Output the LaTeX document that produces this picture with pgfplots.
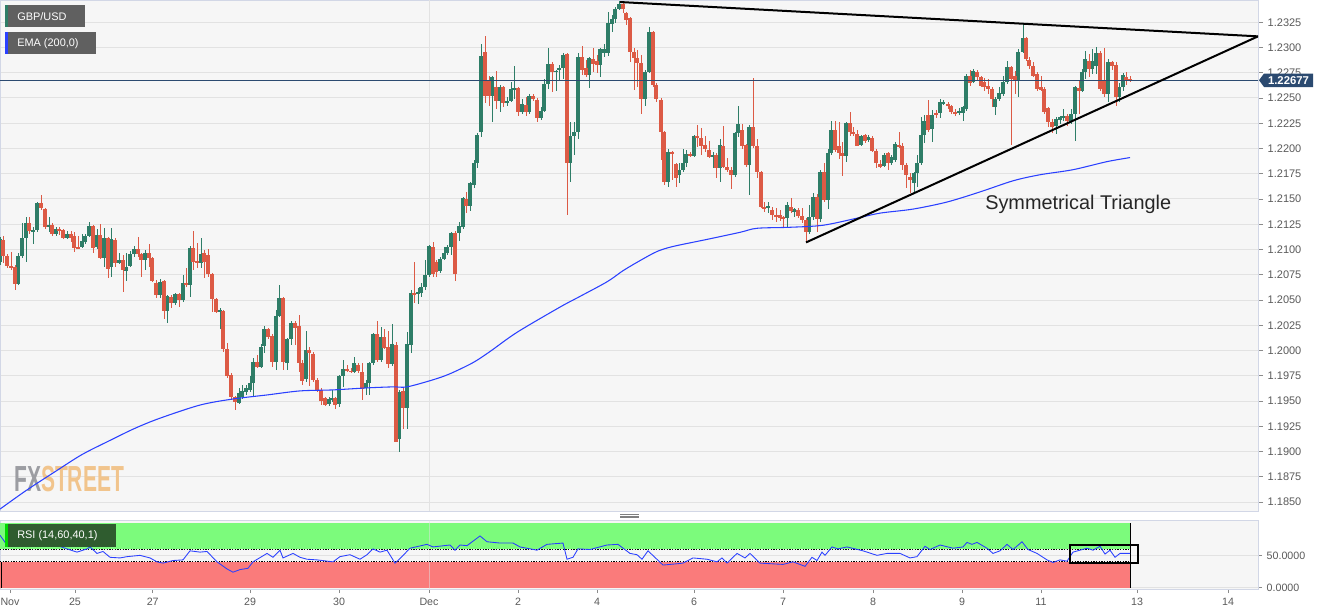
\documentclass[border=0pt]{standalone}
\usepackage{pgfplots}
\pgfplotsset{compat=1.18}
\usepackage{pgfplotstable}
\usepackage{fontspec}
\setmainfont{Liberation Sans}
\definecolor{plotbg}{HTML}{F6F6F6}
\definecolor{framec}{HTML}{D2D7E6}
\definecolor{gridc}{HTML}{E2E2E2}
\definecolor{upc}{HTML}{2E7D67}
\definecolor{downc}{HTML}{DC5A45}
\definecolor{emac}{HTML}{2A40FF}
\definecolor{pricec}{HTML}{2B4A70}
\definecolor{boxgray}{HTML}{606060}
\definecolor{tickgray}{HTML}{5A5A5A}
\definecolor{rsigreen}{HTML}{7CFB7C}
\definecolor{rsired}{HTML}{FA7B7B}
\definecolor{rsibox}{HTML}{2F5C2F}
\definecolor{fxgray}{HTML}{9C9DA2}
\definecolor{fxorange}{HTML}{F1C48C}
\pgfplotsset{/pgf/number format/assume math mode=true}

\pgfplotstableread{
t o h l c
0 1.2088 1.2112 1.2085 1.2110
3 1.2110 1.2113 1.2087 1.2094
7 1.2094 1.2096 1.2082 1.2084
11 1.2084 1.2098 1.2080 1.2082
15 1.2083 1.2085 1.2060 1.2066
18 1.2066 1.2097 1.2065 1.2094
22 1.2094 1.2126 1.2092 1.2111
26 1.2111 1.2132 1.2088 1.2126
29 1.2126 1.2132 1.2115 1.2118
33 1.2117 1.2122 1.2105 1.2119
37 1.2119 1.2147 1.2117 1.2146
41 1.2146 1.2154 1.2139 1.2141
45 1.2140 1.2141 1.2120 1.2122
49 1.2122 1.2132 1.2117 1.2124
52 1.2124 1.2126 1.2113 1.2115
56 1.2115 1.2122 1.2113 1.2120
59 1.2120 1.2122 1.2114 1.2118
63 1.2119 1.2120 1.2110 1.2111
67 1.2111 1.2118 1.2110 1.2115
71 1.2115 1.2118 1.2108 1.2111
74 1.2113 1.2117 1.2098 1.2102
78 1.2103 1.2113 1.2100 1.2101
82 1.2102 1.2115 1.2101 1.2108
85 1.2107 1.2115 1.2106 1.2113
89 1.2113 1.2127 1.2112 1.2123
93 1.2123 1.2124 1.2097 1.2102
97 1.2102 1.2120 1.2100 1.2114
100 1.2114 1.2125 1.2091 1.2092
104 1.2092 1.2121 1.2083 1.2111
108 1.2111 1.2112 1.2072 1.2081
111 1.2083 1.2121 1.2073 1.2110
115 1.2110 1.2111 1.2083 1.2087
119 1.2087 1.2097 1.2086 1.2090
123 1.2090 1.2095 1.2058 1.2080
126 1.2079 1.2097 1.2069 1.2083
130 1.2084 1.2099 1.2083 1.2096
134 1.2096 1.2104 1.2093 1.2101
138 1.2101 1.2112 1.2093 1.2096
141 1.2096 1.2097 1.2073 1.2090
145 1.2090 1.2100 1.2080 1.2097
149 1.2097 1.2106 1.2083 1.2092
152 1.2092 1.2093 1.2068 1.2069
156 1.2067 1.2070 1.2052 1.2055
160 1.2055 1.2071 1.2052 1.2068
164 1.2069 1.2070 1.2031 1.2039
167 1.2039 1.2055 1.2027 1.2054
171 1.2053 1.2055 1.2042 1.2047
175 1.2047 1.2057 1.2045 1.2056
179 1.2056 1.2057 1.2043 1.2050
183 1.2050 1.2075 1.2048 1.2067
186 1.2067 1.2082 1.2063 1.2065
190 1.2065 1.2103 1.2053 1.2102
193 1.2102 1.2118 1.2080 1.2088
197 1.2089 1.2107 1.2082 1.2087
201 1.2087 1.2111 1.2082 1.2096
204 1.2097 1.2100 1.2072 1.2088
208 1.2095 1.2100 1.2073 1.2076
212 1.2076 1.2077 1.2038 1.2051
216 1.2051 1.2052 1.2037 1.2038
220 1.2038 1.2042 1.2021 1.2040
223 1.2039 1.2040 1.1999 1.2002
227 1.2002 1.2008 1.1973 1.1975
231 1.1976 1.1978 1.1951 1.1954
235 1.1954 1.1955 1.1941 1.1949
239 1.1948 1.1963 1.1947 1.1958
242 1.1954 1.1966 1.1952 1.1960
246 1.1959 1.1966 1.1956 1.1963
250 1.1961 1.1975 1.1959 1.1968
253 1.1968 1.1993 1.1954 1.1989
257 1.1989 1.1996 1.1983 1.1984
261 1.1984 1.2006 1.1983 1.2004
264 1.2004 1.2024 1.1998 1.2021
268 1.2021 1.2022 1.2011 1.2013
272 1.2014 1.2016 1.1984 1.1989
276 1.1989 1.2040 1.1981 1.2034
279 1.2034 1.2065 1.2033 1.2052
283 1.2052 1.2053 1.1981 1.1989
287 1.1988 1.2012 1.1981 1.2011
291 1.2011 1.2029 1.2006 1.2027
295 1.2027 1.2029 1.2006 1.2022
299 1.2024 1.2035 1.1979 1.1988
302 1.1988 1.1991 1.1966 1.1970
306 1.1972 1.2019 1.1969 1.2001
309 1.2001 1.2003 1.1965 1.1998
313 1.1997 1.1999 1.1969 1.1971
317 1.1971 1.1973 1.1959 1.1961
321 1.1961 1.1963 1.1946 1.1950
325 1.1953 1.1954 1.1945 1.1946
329 1.1947 1.1954 1.1945 1.1952
332 1.1952 1.1961 1.1949 1.1953
335 1.1953 1.1954 1.1942 1.1946
339 1.1947 1.1976 1.1944 1.1975
343 1.1975 1.1991 1.1964 1.1982
347 1.1982 1.1986 1.1979 1.1980
351 1.1980 1.1983 1.1978 1.1979
354 1.1979 1.1994 1.1978 1.1988
358 1.1986 1.1988 1.1978 1.1980
362 1.1979 1.1988 1.1951 1.1962
366 1.1963 1.1971 1.1956 1.1968
369 1.1968 1.1989 1.1956 1.1988
373 1.1988 1.2017 1.1986 1.2016
377 1.2016 1.2029 1.1989 1.1991
381 1.1991 1.2023 1.1989 1.2013
384 1.2013 1.2021 1.2001 1.2003
388 1.2003 1.2019 1.1983 1.1987
392 1.1987 1.2026 1.1985 1.2006
396 1.2006 1.2008 1.1909 1.1910
399 1.1912 1.1961 1.1900 1.1959
403 1.1960 1.1964 1.1922 1.1943
407 1.1943 1.2018 1.1922 1.2006
411 1.2006 1.2060 1.1998 1.2057
414 1.2057 1.2088 1.2047 1.2056
418 1.2056 1.2062 1.2046 1.2058
421 1.2057 1.2067 1.2053 1.2063
425 1.2063 1.2090 1.2060 1.2075
429 1.2075 1.2104 1.2073 1.2103
433 1.2103 1.2107 1.2073 1.2076
436 1.2088 1.2090 1.2073 1.2078
440 1.2079 1.2093 1.2077 1.2091
444 1.2091 1.2103 1.2090 1.2097
447 1.2097 1.2105 1.2095 1.2103
451 1.2103 1.2117 1.2095 1.2116
455 1.2116 1.2118 1.2069 1.2076
459 1.2116 1.2127 1.2108 1.2123
463 1.2122 1.2152 1.2120 1.2151
466 1.2150 1.2157 1.2136 1.2143
470 1.2143 1.2167 1.2138 1.2166
474 1.2164 1.2189 1.2161 1.2186
477 1.2186 1.2215 1.2181 1.2213
481 1.2216 1.2304 1.2211 1.2292
485 1.2296 1.2311 1.2245 1.2252
489 1.2268 1.2272 1.2242 1.2252
492 1.2252 1.2272 1.2226 1.2271
496 1.2261 1.2277 1.2239 1.2247
500 1.2247 1.2263 1.2236 1.2261
503 1.2261 1.2262 1.2241 1.2245
507 1.2245 1.2251 1.2242 1.2247
511 1.2247 1.2266 1.2246 1.2259
514 1.2258 1.2282 1.2249 1.2260
518 1.2260 1.2261 1.2232 1.2236
522 1.2236 1.2249 1.2234 1.2244
526 1.2243 1.2251 1.2232 1.2236
529 1.2236 1.2254 1.2234 1.2252
533 1.2252 1.2254 1.2247 1.2249
537 1.2248 1.2250 1.2226 1.2230
541 1.2230 1.2241 1.2228 1.2237
544 1.2237 1.2269 1.2236 1.2264
548 1.2264 1.2300 1.2259 1.2284
552 1.2284 1.2286 1.2256 1.2276
556 1.2276 1.2278 1.2257 1.2277
559 1.2278 1.2283 1.2267 1.2280
563 1.2280 1.2295 1.2269 1.2293
567 1.2294 1.2295 1.2134 1.2186
570 1.2186 1.2226 1.2167 1.2212
574 1.2212 1.2226 1.2194 1.2216
578 1.2216 1.2295 1.2209 1.2291
582 1.2291 1.2302 1.2273 1.2278
586 1.2280 1.2288 1.2271 1.2273
589 1.2273 1.2291 1.2260 1.2290
593 1.2289 1.2300 1.2276 1.2284
597 1.2287 1.2293 1.2275 1.2283
600 1.2283 1.2299 1.2271 1.2298
604 1.2295 1.2304 1.2291 1.2299
608 1.2295 1.2335 1.2292 1.2324
612 1.2323 1.2332 1.2315 1.2328
615 1.2328 1.2340 1.2324 1.2338
619 1.2338 1.2346 1.2337 1.2343
623 1.2343 1.2345 1.2334 1.2338
626 1.2334 1.2335 1.2322 1.2327
630 1.2329 1.2330 1.2286 1.2296
634 1.2296 1.2300 1.2258 1.2290
637 1.2290 1.2298 1.2261 1.2285
641 1.2285 1.2293 1.2234 1.2249
645 1.2249 1.2278 1.2242 1.2276
649 1.2276 1.2320 1.2275 1.2315
653 1.2315 1.2316 1.2261 1.2263
656 1.2263 1.2265 1.2246 1.2249
661 1.2248 1.2250 1.2189 1.2216
664 1.2216 1.2217 1.2164 1.2167
668 1.2167 1.2199 1.2162 1.2197
672 1.2197 1.2198 1.2169 1.2195
676 1.2185 1.2186 1.2162 1.2171
679 1.2174 1.2186 1.2166 1.2179
683 1.2179 1.2199 1.2177 1.2186
686 1.2186 1.2199 1.2182 1.2195
690 1.2195 1.2197 1.2192 1.2193
694 1.2193 1.2213 1.2192 1.2212
697 1.2212 1.2223 1.2202 1.2210
701 1.2210 1.2220 1.2194 1.2203
705 1.2203 1.2212 1.2197 1.2199
709 1.2199 1.2207 1.2191 1.2192
713 1.2192 1.2197 1.2181 1.2194
716 1.2194 1.2196 1.2171 1.2181
720 1.2181 1.2209 1.2167 1.2203
723 1.2203 1.2222 1.2181 1.2182
727 1.2182 1.2191 1.2177 1.2179
731 1.2179 1.2182 1.2160 1.2174
735 1.2174 1.2216 1.2172 1.2215
738 1.2215 1.2242 1.2211 1.2224
742 1.2218 1.2224 1.2199 1.2202
746 1.2203 1.2204 1.2182 1.2184
749 1.2184 1.2223 1.2154 1.2221
753 1.2221 1.2270 1.2201 1.2202
757 1.2202 1.2209 1.2171 1.2177
761 1.2177 1.2178 1.2141 1.2142
764 1.2142 1.2147 1.2137 1.2141
768 1.2141 1.2147 1.2136 1.2143
772 1.2139 1.2142 1.2129 1.2134
776 1.2134 1.2141 1.2127 1.2132
780 1.2134 1.2139 1.2128 1.2131
783 1.2132 1.2133 1.2122 1.2130
787 1.2131 1.2147 1.2122 1.2144
791 1.2142 1.2151 1.2136 1.2138
794 1.2137 1.2141 1.2132 1.2140
798 1.2139 1.2141 1.2131 1.2133
802 1.2133 1.2141 1.2126 1.2129
806 1.2129 1.2131 1.2107 1.2117
809 1.2117 1.2144 1.2115 1.2132
813 1.2132 1.2156 1.2129 1.2152
817 1.2152 1.2155 1.2117 1.2130
820 1.2130 1.2179 1.2127 1.2177
824 1.2177 1.2186 1.2147 1.2149
828 1.2149 1.2199 1.2140 1.2196
831 1.2196 1.2227 1.2194 1.2218
835 1.2218 1.2227 1.2197 1.2199
839 1.2202 1.2226 1.2190 1.2196
842 1.2196 1.2206 1.2173 1.2193
846 1.2193 1.2226 1.2187 1.2225
850 1.2225 1.2236 1.2212 1.2216
853 1.2216 1.2221 1.2212 1.2214
857 1.2214 1.2218 1.2202 1.2203
861 1.2203 1.2213 1.2202 1.2212
865 1.2213 1.2214 1.2205 1.2207
868 1.2208 1.2213 1.2206 1.2211
872 1.2210 1.2212 1.2197 1.2198
876 1.2198 1.2199 1.2181 1.2186
880 1.2185 1.2189 1.2181 1.2182
884 1.2183 1.2196 1.2182 1.2194
888 1.2196 1.2197 1.2179 1.2186
891 1.2186 1.2194 1.2184 1.2192
895 1.2189 1.2206 1.2187 1.2204
899 1.2204 1.2216 1.2201 1.2202
902 1.2202 1.2206 1.2179 1.2184
906 1.2184 1.2186 1.2161 1.2174
910 1.2172 1.2176 1.2156 1.2169
914 1.2166 1.2177 1.2156 1.2176
917 1.2176 1.2194 1.2162 1.2186
921 1.2186 1.2231 1.2184 1.2213
924 1.2213 1.2233 1.2206 1.2227
928 1.2233 1.2248 1.2216 1.2218
932 1.2219 1.2238 1.2207 1.2233
936 1.2235 1.2238 1.2230 1.2233
940 1.2235 1.2249 1.2230 1.2246
943 1.2244 1.2248 1.2243 1.2246
948 1.2244 1.2246 1.2239 1.2242
951 1.2242 1.2243 1.2234 1.2236
955 1.2236 1.2239 1.2232 1.2235
959 1.2235 1.2240 1.2233 1.2237
963 1.2235 1.2242 1.2227 1.2241
966 1.2239 1.2274 1.2237 1.2272
970 1.2272 1.2278 1.2262 1.2265
973 1.2266 1.2279 1.2265 1.2277
977 1.2276 1.2278 1.2268 1.2271
981 1.2271 1.2272 1.2261 1.2262
984 1.2266 1.2270 1.2257 1.2261
988 1.2262 1.2269 1.2254 1.2259
992 1.2259 1.2261 1.2241 1.2249
995 1.2241 1.2251 1.2233 1.2249
999 1.2249 1.2261 1.2247 1.2255
1003 1.2254 1.2272 1.2252 1.2266
1007 1.2266 1.2287 1.2264 1.2281
1011 1.2281 1.2282 1.2204 1.2269
1015 1.2272 1.2277 1.2254 1.2267
1018 1.2267 1.2298 1.2251 1.2296
1023 1.2296 1.2324 1.2295 1.2309
1026 1.2309 1.2310 1.2287 1.2289
1029 1.2288 1.2291 1.2279 1.2282
1033 1.2282 1.2286 1.2271 1.2272
1037 1.2274 1.2276 1.2257 1.2259
1041 1.2261 1.2272 1.2257 1.2258
1044 1.2259 1.2261 1.2234 1.2236
1048 1.2240 1.2241 1.2221 1.2226
1052 1.2226 1.2229 1.2215 1.2221
1056 1.2222 1.2231 1.2214 1.2229
1060 1.2228 1.2232 1.2224 1.2231
1063 1.2230 1.2239 1.2227 1.2232
1067 1.2232 1.2234 1.2222 1.2227
1071 1.2227 1.2239 1.2224 1.2234
1075 1.2234 1.2262 1.2207 1.2261
1079 1.2260 1.2267 1.2234 1.2257
1082 1.2257 1.2279 1.2256 1.2276
1085 1.2276 1.2297 1.2269 1.2289
1089 1.2287 1.2294 1.2271 1.2279
1092 1.2279 1.2299 1.2274 1.2287
1096 1.2282 1.2301 1.2274 1.2295
1100 1.2295 1.2297 1.2257 1.2259
1104 1.2268 1.2300 1.2251 1.2254
1108 1.2254 1.2289 1.2246 1.2286
1112 1.2286 1.2287 1.2278 1.2282
1116 1.2283 1.2286 1.2242 1.2251
1119 1.2251 1.2265 1.2246 1.2261
1123 1.2261 1.2275 1.2257 1.2273
1126 1.2271 1.2276 1.2263 1.2268
1130 1.22690 1.2272 1.2266 1.22677
}\candles

\pgfplotstableread{
t v
0 1.1843
27 1.1862
55 1.1880
82 1.1897
110 1.1911
135 1.1923
160 1.1933
200 1.1946
233 1.1952
267 1.1956
300 1.1960
333 1.1961
367 1.1963
393 1.1964
407 1.1964
433 1.1971
450 1.1977
473 1.1988
490 1.1999
517 1.2018
560 1.2043
577 1.2052
607 1.2068
623 1.2079
640 1.2089
657 1.2098
673 1.2103
707 1.2110
740 1.2117
757 1.2121
790 1.2122
823 1.2124
857 1.2131
880 1.2136
913 1.2140
947 1.2147
980 1.2157
1013 1.2168
1040 1.2174
1073 1.2179
1107 1.2187
1130 1.2191
}\ema

\pgfplotstableread{
t v
0 81
7 66
13 70
20 68
33 72
50 69
67 60
77 55
87 60
90 63
97 53
103 56
110 47
120 46
127 48
140 50
150 46
157 40
163 38
173 42
183 43
190 57
200 55
207 56
217 40
227 29
233 24
240 28
248 30
253 40
267 53
273 47
280 58
283 46
293 53
300 47
307 44
317 43
333 40
340 48
350 51
360 44
367 51
373 60
380 55
387 58
395 38
400 45
410 61
427 67
433 63
450 66
455 58
460 66
467 65
480 80
487 71
500 69
513 69
520 63
537 58
547 67
563 69
567 44
573 47
578 60
590 59
607 66
618 67
630 53
637 51
642 44
648 57
663 35
677 37
683 38
693 46
707 44
717 40
722 46
727 38
737 53
745 46
750 53
760 38
783 36
793 40
805 33
812 47
817 42
822 55
825 50
832 63
838 60
847 63
863 57
877 50
887 53
900 53
910 46
917 48
925 64
930 59
940 66
953 61
963 63
967 70
972 67
977 70
987 61
993 53
1000 57
1007 67
1013 59
1022 71
1028 59
1037 53
1047 43
1053 39
1060 43
1067 41
1073 55
1080 58
1087 61
1093 58
1100 64
1105 52
1110 58
1115 47
1120 53
1127 53
1130 53
}\rsi

\begin{document}
\begin{tikzpicture}
\path[use as bounding box] (0,0) rectangle (998.25pt,-461.25pt);
\fill[white] (0,0) rectangle (998.25pt,-461.25pt);

% ---------------- main price panel ----------------
\begin{axis}[
  at={(0pt,0pt)}, anchor=north west,
  scale only axis, width=943.5pt, height=383.25pt,
  xmin=0, xmax=1258, ymin=1.18411, ymax=1.2347,
  axis background/.style={fill=plotbg},
  axis line style={framec, line width=0.75pt},
  xtick=\empty,
  ytick={1.185,1.1875,1.19,1.1925,1.195,1.1975,1.2,1.2025,1.205,1.2075,1.21,1.2125,1.215,1.2175,1.22,1.2225,1.225,1.2275,1.23,1.2325},
  scaled y ticks=false,
  ytick pos=right, yticklabel pos=right,
  tick align=outside, major tick length=3.75pt,
  y tick style={tickgray!70, line width=0.6pt},
  yticklabel style={font=\fontsize{8.25}{10}\selectfont, text=tickgray,
     /pgf/number format/.cd, fixed, fixed zerofill, precision=4},
  ymajorgrids, grid style={gridc, line width=0.75pt},
]
\draw[gridc, line width=0.75pt] (axis cs:429,1.18411) -- (axis cs:429,1.2347);
\node[anchor=west, inner sep=0pt, xscale=0.58, font=\fontsize{27.2}{30}\selectfont\bfseries]
  at (axis cs:14,1.1873) {\textcolor{fxgray}{FX}\textcolor{fxorange}{STREET}};
% wicks
\addplot[forget plot, draw=none, mark=none, error bars/.cd, y dir=both, y explicit,
  error mark=none, error bar style={draw=upc, line width=0.75pt}]
  table[x=t, y expr={\thisrow{c}>\thisrow{o} ? (\thisrow{h}+\thisrow{l})/2 : nan},
        y error expr={(\thisrow{h}-\thisrow{l})/2}] {\candles};
\addplot[forget plot, draw=none, mark=none, error bars/.cd, y dir=both, y explicit,
  error mark=none, error bar style={draw=downc, line width=0.75pt}]
  table[x=t, y expr={\thisrow{c}<\thisrow{o} ? (\thisrow{h}+\thisrow{l})/2 : nan},
        y error expr={(\thisrow{h}-\thisrow{l})/2}] {\candles};
% bodies
\addplot[forget plot, draw=none, mark=none, error bars/.cd, y dir=both, y explicit,
  error mark=none, error bar style={draw=upc, line width=2.45pt}]
  table[x=t, y expr={\thisrow{c}>\thisrow{o} ? (\thisrow{o}+\thisrow{c})/2 : nan},
        y error expr={abs(\thisrow{c}-\thisrow{o})/2}] {\candles};
\addplot[forget plot, draw=none, mark=none, error bars/.cd, y dir=both, y explicit,
  error mark=none, error bar style={draw=downc, line width=2.45pt}]
  table[x=t, y expr={\thisrow{c}<\thisrow{o} ? (\thisrow{o}+\thisrow{c})/2 : nan},
        y error expr={abs(\thisrow{c}-\thisrow{o})/2}] {\candles};
% EMA
\addplot[emac, line width=0.8pt, mark=none, smooth] table[x=t, y=v] {\ema};
% current price
\addplot[pricec, line width=0.8pt, mark=none] coordinates {(0,1.22677) (1258,1.22677)};
% triangle
\addplot[black, line width=1.5pt, mark=none] coordinates {(620,1.2345) (1258,1.2311)};
\addplot[black, line width=1.5pt, mark=none] coordinates {(806,1.2107) (1258,1.2311)};
\node[anchor=base west, inner sep=0pt, text=black!85, font=\fontsize{14.9}{17}\selectfont]
  at (axis cs:985,1.2140) {Symmetrical Triangle};
\end{axis}

% ---------------- RSI panel ----------------
\begin{axis}[
  at={(0pt,-390pt)}, anchor=north west,
  scale only axis, width=943.5pt, height=51.75pt,
  xmin=0, xmax=1258, ymin=-2, ymax=104.6,
  axis background/.style={fill=plotbg},
  axis line style={framec, line width=0.75pt},
  xtick={10,75,152.7,250,339,429,518,597,694,783,873,962,1041,1137,1228},
  xticklabels={Nov,25,27,29,30,Dec,2,4,6,7,8,9,11,13,14},
  ytick={0,50},
  xtick pos=left, ytick pos=right, yticklabel pos=right,
  tick align=outside, major tick length=3pt,
  tick style={tickgray!70, line width=0.6pt},
  xticklabel style={font=\fontsize{8}{10}\selectfont, text=tickgray},
  yticklabel style={font=\fontsize{8}{10}\selectfont, text=tickgray,
     /pgf/number format/.cd, fixed, fixed zerofill, precision=4},
  ymajorgrids, grid style={gridc, line width=0.75pt},
]
\fill[rsigreen] (axis cs:0,60) rectangle (axis cs:1130,100);
\fill[rsired] (axis cs:0,0) rectangle (axis cs:1130,40);
\draw[gridc, line width=0.6pt, opacity=0.5] (axis cs:429,-2) -- (axis cs:429,104.6);
\draw[black, line width=0.5pt, dash pattern=on 1pt off 1pt] (axis cs:0,60) -- (axis cs:1130,60);
\draw[black, line width=0.5pt, dash pattern=on 1pt off 1pt] (axis cs:0,40) -- (axis cs:1130,40);
\draw[black, line width=0.6pt] (axis cs:1130,0) -- (axis cs:1130,100);
\draw[black, line width=0.6pt] (axis cs:1,0) -- (axis cs:1,40);
\addplot[emac, line width=0.65pt, mark=none] table[x=t, y=v] {\rsi};
\draw[black, line width=1.5pt] (axis cs:1070,38) rectangle (axis cs:1138,66);
\end{axis}

% ---------------- overlays in pixel units ----------------
\begin{scope}[x=0.75pt, y=-0.75pt]
  \fill[boxgray] (5,5) rectangle (85,27);
  \fill[upc] (5,5) rectangle (7.5,27);
  \node[anchor=west, inner sep=0pt, text=white, font=\fontsize{8.2}{10}\selectfont] at (17,16.5) {GBP/USD};
  \fill[boxgray] (5,32) rectangle (96,54);
  \fill[emac] (5,32) rectangle (7.5,54);
  \node[anchor=west, inner sep=0pt, text=white, font=\fontsize{8.2}{10}\selectfont] at (17,43.5) {EMA (200,0)};
  \fill[rsibox] (5,524) rectangle (116,547);
  \fill[green!85!black] (5,524) rectangle (7.5,547);
  \node[anchor=west, inner sep=0pt, text=white, font=\fontsize{8.2}{10}\selectfont] at (17,535.5) {RSI (14,60,40,1)};
  \fill[pricec] (1259,80.2) -- (1264,73.5) -- (1313,73.5) -- (1313,87) -- (1264,87) -- cycle;
  \node[inner sep=0pt, text=white, font=\fontsize{8.5}{10}\selectfont\bfseries] at (1288.5,80.5) {1.22677};
  \draw[gray, line width=0.5pt] (620,514.3) -- (639,514.3) (620,516) -- (639,516) (620,517.7) -- (639,517.7);
\end{scope}
\end{tikzpicture}
\end{document}
